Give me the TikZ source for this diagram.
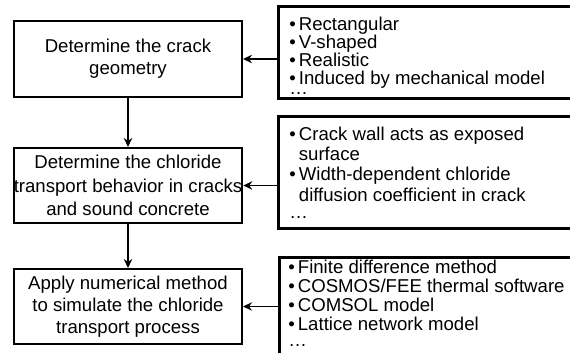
\documentclass[tikz,border=0pt]{standalone}
\usepackage{fontspec}
\setmainfont{Liberation Sans}
\usetikzlibrary{arrows.meta,positioning}
\newcommand{\bul}{\textbullet\hspace{1.5pt}}

\begin{document}
\begin{tikzpicture}[x=0.5pt,y=-0.5pt,
  stepbox/.style={draw, line width=1pt, minimum width=114pt, minimum height=37.5pt,
    align=center, inner sep=0pt, font=\fontsize{9.3}{11}\selectfont},
  panel/.style={draw, line width=1.4pt, anchor=north west, minimum width=200pt, inner sep=0pt},
  items/.style={inner sep=0pt, align=left, anchor=north west, font=\fontsize{9.3}{9.5}\selectfont},
  link/.style={line width=0.9pt, -{Stealth[length=4.5pt,width=4.2pt]}}]
  \useasboundingbox (0,0) rectangle (570,353);
  \clip (0,0) rectangle (570,353);
  % steps
  \node[stepbox, minimum height=38pt] (geom) at (128,59) {Determine the crack\\geometry};
  \node[stepbox, font=\fontsize{9.3}{11.7}\selectfont] (transport) at (128,185.5)
    {Determine the chloride\\transport behavior in cracks\\and sound concrete};
  \node[stepbox] (simulate) at (128,306.5)
    {Apply numerical method\\to simulate the chloride\\transport process};
  % option panels (cut off at the right edge)
  \node[panel, minimum height=46pt] (shapes) at (277,5) {};
  \node[panel, minimum height=56pt] (mech) at (277,115) {};
  \node[panel, minimum height=70pt] (solvers) at (278,256) {};
  \node[items, font=\fontsize{9.3}{9.1}\selectfont, below right=5.6pt and 6pt of shapes.north west] (shapelist)
    {\bul Rectangular\\\bul V-shaped\\\bul Realistic\\\bul Induced by mechanical model\\[-4.3pt]\ldots};
  \node[items, font=\fontsize{9.3}{10.2}\selectfont, below right=5.6pt and 6pt of mech.north west] (mechlist)
    {\bul Crack wall acts as exposed\\\hphantom{\bul}surface\\\bul Width-dependent chloride\\\hphantom{\bul}diffusion coefficient in crack\\[-1.5pt]\ldots};
  \node[items, below right=1.8pt and 5pt of solvers.north west] (solverlist)
    {\bul Finite difference method\\\bul COSMOS/FEE thermal software\\\bul COMSOL model\\\bul Lattice network model\\[-1.5pt]\ldots};
  % connectors
  \draw[link] (geom) -- (transport);
  \draw[link] (transport) -- (simulate);
  \draw[link] (shapes.west |- geom.east) -- (geom.east);
  \draw[link] (mech.west |- transport.east) -- (transport.east);
  \draw[link] (solvers.west |- simulate.east) -- (simulate.east);
\end{tikzpicture}
\end{document}
